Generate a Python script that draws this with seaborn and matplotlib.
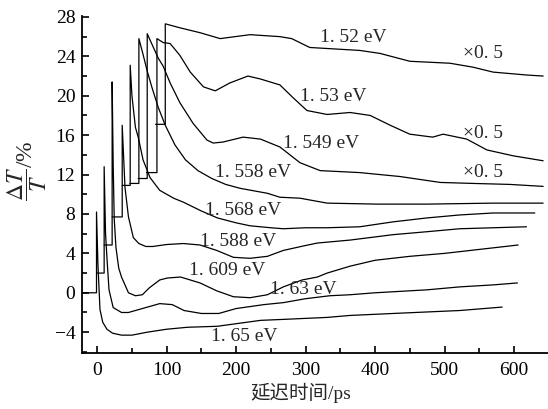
import pandas as pd
import matplotlib
matplotlib.use("Agg")
import matplotlib.pyplot as plt
import seaborn as sns
from matplotlib.ticker import MultipleLocator

# curve values (delay in ps, dT/T in %)
t_152 = [84, 98, 98, 119, 148, 177, 220, 263, 280, 306, 378, 407, 450, 508, 541, 570, 619, 642]
v_152 = [17.1, 17.1, 27.3, 26.9, 26.4, 25.8, 26.2, 26.0, 25.8, 24.9, 24.6, 24.3, 23.5, 23.3, 22.9, 22.4, 22.1, 22.0]

t_153 = [71, 86, 86, 95, 105, 119, 134, 153, 170, 191, 217, 235, 263, 282, 302, 331, 364, 393, 422, 450, 483, 498, 532, 561, 599, 642]
v_153 = [12.2, 12.2, 25.8, 25.4, 25.3, 24.1, 22.4, 20.9, 20.5, 21.3, 22.0, 21.7, 21.1, 19.8, 18.5, 18.1, 18.3, 18.0, 17.0, 16.1, 15.8, 16.1, 15.6, 14.5, 13.9, 13.4]

t_1549 = [59, 72, 72, 79, 88, 95, 105, 119, 138, 158, 167, 181, 210, 235, 263, 292, 321, 378, 436, 494, 541, 594, 642]
v_1549 = [11.6, 11.6, 26.3, 25.2, 23.8, 23.0, 21.3, 19.3, 17.2, 15.5, 15.2, 15.3, 15.8, 15.6, 14.8, 13.2, 12.4, 12.2, 11.8, 11.2, 11.1, 11.0, 10.8]

t_1558 = [47, 60, 60, 66, 72, 79, 88, 98, 112, 127, 145, 165, 185, 206, 245, 263, 292, 331, 403, 475, 570, 642]
v_1558 = [11.1, 11.1, 25.8, 24.2, 22.5, 20.8, 18.8, 17.0, 15.0, 13.5, 12.4, 11.6, 11.0, 10.6, 10.1, 9.7, 9.6, 9.1, 9.0, 9.0, 9.1, 9.1]

t_1568 = [36, 47.5, 47.5, 50, 55, 59, 66, 76, 90, 110, 124, 150, 173, 200, 220, 250, 268, 300, 331, 378, 426, 475, 522, 570, 630]
v_1568 = [10.9, 10.9, 23.1, 20.0, 16.8, 15.8, 13.5, 11.7, 10.4, 9.6, 9.2, 8.3, 7.6, 7.1, 6.8, 6.6, 6.5, 6.6, 6.6, 6.7, 7.2, 7.6, 7.9, 8.1, 8.1]

t_1588 = [21.5, 36, 36, 40, 45, 52, 60, 70, 80, 100, 124, 148, 172, 196, 220, 245, 268, 300, 317, 364, 426, 475, 522, 570, 618]
v_1588 = [7.7, 7.7, 17.0, 10.7, 7.7, 5.6, 5.0, 4.7, 4.7, 4.9, 5.0, 4.85, 4.3, 3.6, 3.5, 3.7, 4.3, 4.8, 5.05, 5.35, 5.9, 6.2, 6.5, 6.6, 6.7]

t_1609 = [10, 21.5, 21.5, 23, 24.5, 27, 31, 35, 45, 55, 65, 75, 90, 101, 120, 148, 172, 196, 220, 245, 268, 295, 317, 331, 364, 400, 450, 500, 550, 606]
v_1609 = [4.85, 4.85, 21.4, 13.0, 7.5, 4.6, 2.5, 1.6, 0.0, -0.3, -0.2, 0.5, 1.3, 1.5, 1.6, 1.0, 0.2, -0.4, -0.5, -0.2, 0.6, 1.3, 1.6, 2.0, 2.7, 3.3, 3.7, 4.0, 4.4, 4.85]

t_163 = [0, 10, 10, 12, 14.5, 17, 23, 35, 45, 60, 75, 90, 108, 125, 150, 175, 200, 240, 268, 300, 335, 364, 400, 475, 522, 570, 605]
v_163 = [2.0, 2.0, 12.8, 6.0, 3.0, 0.3, -1.5, -2.0, -2.0, -1.7, -1.4, -1.1, -1.2, -1.8, -2.1, -2.1, -1.6, -1.2, -1.0, -0.6, -0.3, -0.2, 0.0, 0.3, 0.6, 0.8, 1.0]

t_165 = [-21, -1, -1, 1, 4, 8, 14, 22, 35, 50, 72, 100, 130, 173, 235, 268, 331, 364, 426, 522, 583]
v_165 = [0, 0, 8.2, 3.0, -1.7, -3.0, -3.7, -4.1, -4.3, -4.3, -4.0, -3.7, -3.5, -3.4, -2.8, -2.7, -2.5, -2.3, -2.1, -1.8, -1.45]

curve_names = ["1.52", "1.53", "1.549", "1.558", "1.568", "1.588", "1.609", "1.63", "1.65"]
curve_t = [t_152, t_153, t_1549, t_1558, t_1568, t_1588, t_1609, t_163, t_165]
curve_v = [v_152, v_153, v_1549, v_1558, v_1568, v_1588, v_1609, v_163, v_165]

# label text and where it sits (data coords)
label_text = ["1. 52 eV", "1. 53 eV", "1. 549 eV", "1. 558 eV", "1. 568 eV",
              "1. 588 eV", "1. 609 eV", "1. 63 eV", "1. 65 eV"]
label_t = [321, 292, 268, 170, 155, 148, 132, 249, 164]
label_v = [25.9, 19.9, 15.2, 12.2, 8.4, 5.2, 2.3, 0.3, -4.4]
scale_v = [24.3, 16.2, 12.2]

frames = []
for name, t, v in zip(curve_names, curve_t, curve_v):
    frames.append(pd.DataFrame({"t": t, "v": v, "curve": name}))
df = pd.concat(frames, ignore_index=True)

sns.set_style("ticks")
plt.rcParams["font.family"] = ["Liberation Serif", "Noto Sans CJK SC"]
plt.rcParams["mathtext.fontset"] = "stix"

fig = plt.figure(figsize=(5.48, 4.09), dpi=100)
ax = fig.add_axes([0.150, 0.1377, 0.85, 0.8233])

sns.lineplot(data=df, x="t", y="v", units="curve", estimator=None, sort=False,
             color="black", linewidth=0.9, ax=ax, legend=False)

for txt, x, y in zip(label_text, label_t, label_v):
    ax.text(x, y, txt, fontsize=14, ha="left", va="center")
for y in scale_v:
    ax.text(527, y, "×0. 5", fontsize=14, ha="left", va="center")

ax.set_xlim(-21.6, 649)
ax.set_ylim(-6.08, 28.1)
ax.xaxis.set_major_locator(MultipleLocator(100))
ax.xaxis.set_minor_locator(MultipleLocator(50))
ax.yaxis.set_major_locator(MultipleLocator(4))
ax.yaxis.set_minor_locator(MultipleLocator(2))
ax.tick_params(which="both", direction="in", width=1.2, labelsize=14, colors="black")
ax.tick_params(which="major", length=5)
ax.tick_params(which="minor", length=3.5)
ax.tick_params(axis="x", pad=7)
ax.tick_params(axis="y", pad=5)
for s in ["left", "bottom"]:
    ax.spines[s].set_linewidth(1.3)
    ax.spines[s].set_color("black")
sns.despine(ax=ax)

ax.set_xlabel("延迟时间/ps", fontsize=14)
ax.set_ylabel(r"$\dfrac{\Delta T}{T}$/%", fontsize=17)
ax.yaxis.set_label_coords(-0.072, 0.54)
ax.xaxis.set_label_coords(0.47, -0.09)

fig.savefig("out.png", dpi=100)
